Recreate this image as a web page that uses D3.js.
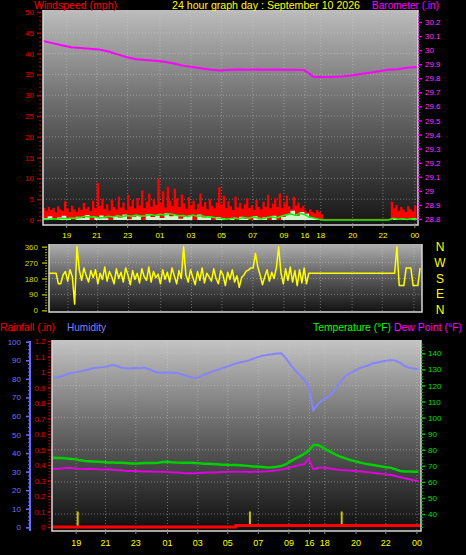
<!DOCTYPE html>
<html><head><meta charset="utf-8">
<script src="https://cdn.jsdelivr.net/npm/d3@7/dist/d3.min.js"></script>
<style>
body{margin:0;background:#000;}
svg{display:block;}
text{font-family:"Liberation Sans",Arial,sans-serif;}
</style>
</head><body>
<svg id="c" width="466" height="555"></svg>
<script>
// ---------- DATA ----------
const titleText = "24 hour graph day : September 10 2026";
const tickHours = [1.52, 3.45, 5.44, 7.52, 9.51, 11.48, 13.48, 15.49, 16.84, 17.85, 19.9, 21.85, 23.9];
const tickLabels = ["19","21","23","01","03","05","07","09","16","18","20","22","00"];

// wind gust (mph), one sample every 0.15 h
const gustStep = 0.15;
const windGust = [
 2.9,2.2,3.1,2.4,2.9,1.8,3.3,2.6,2.2,4.5,
 2.8,2.0,3.4,2.5,1.9,3.0,2.4,4.1,2.7,3.2,
 2.1,4.6,2.9,8.9,3.4,5.1,2.6,3.8,2.3,4.9,
 3.1,2.5,5.6,3.0,4.2,2.4,6.0,3.3,4.8,2.8,
 5.3,3.5,7.1,2.9,4.4,6.3,3.2,5.0,3.6,10.0,
 4.1,6.9,3.0,8.0,4.7,3.4,7.5,5.2,3.1,6.1,
 4.0,2.7,5.5,3.6,4.6,2.5,3.9,6.4,3.2,4.3,
 2.6,5.0,3.4,2.8,4.2,7.9,3.7,5.8,2.9,4.5,
 3.3,2.4,5.6,3.0,4.1,2.7,3.8,5.2,2.9,3.5,
 2.4,4.8,3.1,2.6,4.4,3.2,6.0,2.8,3.9,5.2,
 3.1,6.4,2.9,4.0,5.8,3.3,2.6,5.6,3.5,4.2,
 2.8,3.4,2.3,1.8,2.6,2.0,1.6,2.4,1.9,1.4,
 0.3,0.3,0.3,0.3,0.3,0.3,0.3,0.3,0.3,0.3,
 0.3,0.3,0.3,0.3,0.3,0.3,0.3,0.3,0.3,0.3,
 0.3,0.3,0.3,0.3,0.3,0.3,0.3,0.3,0.3,
 4.4,2.8,3.6,2.2,3.1,2.5,1.9,3.3,2.6,2.1,3.4,2.7
];
// average wind / wind speed (mph), one sample every 0.3 h
const avgStep = 0.3;
const windAvg = [
 0.2,0.1,0.3,0.2,0.4,0.3,0.5,0.4,0.6,0.9,
 0.7,0.8,0.5,0.6,0.9,0.7,1.0,0.8,1.1,0.9,
 1.2,0.9,1.0,1.3,1.1,1.4,1.2,1.5,1.3,1.0,
 1.1,0.8,1.2,0.9,1.0,0.7,0.8,0.5,0.4,0.2,
 0.3,0.5,0.3,0.6,0.4,0.7,0.5,0.3,0.6,0.8,
 0.5,0.9,1.2,1.5,1.1,1.6,1.3,0.7,0.5,0.2,
 0,0,0,0,0,0,0,0,0,0,0,0,0,0,0,
 0.4,0.2,0.3,0.1,0.3,0.2
];
const windSpeed = [
 0.4,0.9,0.0,0.6,1.0,0.3,0.0,0.8,0.5,1.2,
 0.0,0.7,1.1,0.4,0.0,0.9,0.6,1.3,0.2,0.8,
 1.0,0.0,1.4,0.7,1.1,0.5,1.6,0.9,1.2,0.3,
 0.8,1.1,0.0,1.3,0.6,0.9,0.0,0.7,0.4,0.0,
 0.5,0.0,0.8,0.3,0.0,0.9,0.2,0.6,0.0,1.0,
 0.0,0.7,1.4,2.2,1.0,1.9,1.5,0.6,0.3,0.0,
 0,0,0,0,0,0,0,0,0,0,0,0,0,0,0,
 0.3,0.0,0.2,0.0,0.4,0.1
];
// barometer (in), one sample every 0.6 h
const baroStep = 0.6;
const barometer = [
 30.065,30.05,30.035,30.02,30.015,30.01,30.005,29.99,29.97,29.95,
 29.935,29.93,29.925,29.918,29.905,29.89,29.88,29.87,29.86,29.855,
 29.86,29.862,29.86,29.862,29.86,29.862,29.86,29.86,29.858,29.81,
 29.81,29.81,29.812,29.82,29.83,29.84,29.85,29.86,29.865,29.875,29.88
];
// wind direction (deg), every 0.15 h starting at 0.3 h
const dirStart = 0.3, dirStep = 0.15;
const windDir = [
 210,210,210,210,150,150,200,220,165,230,
 190,35,360,230,170,240,195,160,225,185,
 230,150,210,175,245,165,220,190,150,235,
 180,215,160,240,200,145,225,175,210,155,
 235,190,170,245,160,220,185,205,150,230,
 175,215,160,240,195,150,225,180,360,200,
 160,230,185,145,220,170,240,155,210,190,
 165,235,180,150,225,200,140,215,175,230,
 160,195,130,185,200,222,228,240,240,322,
 245,200,145,190,230,165,215,180,240,360,
 210,150,235,170,245,160,225,140,230,155,
 240,150,210,210,210,210,210,210,210,210,
 210,210,210,210,210,210,210,210,210,210,
 210,210,210,210,210,210,210,210,210,210,
 210,210,210,210,210,210,210,210,210,210,
 360,140,140,140,240,240,240,140,140,140,240
];
// bottom panel series, one sample every 0.3 h
const botStep = 0.3;
const humidity = [
 80.6,80.8,81.5,82.3,83.2,83.5,84.0,84.6,85.2,85.8,
 86.1,86.3,86.8,87.4,86.9,85.9,85.7,85.7,85.8,85.7,
 85.9,85.2,84.1,83.3,83.3,83.4,83.3,83.2,82.6,81.8,
 81.0,80.4,80.8,82.2,83.0,84.0,84.8,85.6,86.5,87.4,
 88.3,88.9,89.4,90.0,91.0,91.8,92.5,93.0,93.3,93.6,
 93.8,91.0,87.5,84.6,82.0,79.5,76.0,63.0,66.5,68.6,
 70.0,72.0,75.0,78.5,81.6,83.0,84.3,85.6,86.5,87.2,
 88.3,88.8,89.3,89.8,90.1,89.8,88.6,86.8,86.0,85.6,85.1
];
const temperature = [
 75.0,74.9,74.8,74.5,74.3,74.0,73.4,73.0,72.9,72.7,
 72.5,72.3,72.1,72.0,71.9,71.9,71.7,71.5,71.5,71.6,
 71.7,71.8,71.8,71.9,72.3,72.5,72.2,72.0,71.9,71.9,
 71.9,71.8,71.6,71.3,71.2,71.1,70.9,70.7,70.6,70.5,
 70.5,70.4,70.1,69.8,69.6,69.4,69.2,68.9,69.1,69.4,
 69.8,71.0,72.8,74.4,75.9,77.5,79.5,82.9,82.9,81.4,
 79.8,78.3,76.8,75.6,74.6,73.6,72.9,72.2,71.5,71.0,
 70.5,70.0,69.5,69.1,68.7,67.8,66.8,66.5,66.4,66.3,66.3
];
const dewPoint = [
 68.0,68.1,68.3,68.8,68.6,68.3,68.1,68.0,68.1,68.0,
 67.8,67.7,67.9,67.6,67.4,67.3,66.8,66.8,66.7,66.6,
 66.5,66.4,66.3,66.3,66.3,66.2,66.0,65.8,65.6,65.4,
 65.3,65.3,65.5,65.7,65.9,65.9,66.0,66.1,66.2,66.3,
 66.3,66.3,66.3,66.2,66.3,66.3,66.4,66.6,66.9,67.2,
 67.6,68.3,69.0,69.8,70.5,71.0,74.5,67.8,68.8,68.8,
 68.6,68.2,67.7,67.4,67.2,67.0,66.8,66.6,66.3,66.0,
 65.7,65.3,65.0,64.6,64.3,63.6,62.9,62.2,61.6,61.0,60.5
];
const rainfall = [
 0,0,0,0,0,0,0,0,0,0,
 0,0,0,0,0,0,0,0,0,0,
 0,0,0,0,0,0,0,0,0,0,
 0,0,0,0,0,0,0,0,0,0,
 0.01,0.01,0.01,0.01,0.01,0.01,0.01,0.01,0.01,0.01,
 0.01,0.01,0.01,0.01,0.01,0.01,0.01,0.01,0.01,0.01,
 0.01,0.01,0.01,0.01,0.01,0.01,0.01,0.01,0.01,0.01,
 0.01,0.01,0.01,0.01,0.01,0.01,0.01,0.01,0.01,0.01,0
];
const rainRateHours = [1.62, 12.93, 18.96];
const rainRate = [0.1, 0.1, 0.1];

// ---------- LAYOUT ----------
const svg = d3.select("#c");
const defs = svg.append("defs");
const FONT = '"Liberation Sans",Arial,sans-serif';

function grad(id, stops){
  const g = defs.append("linearGradient").attr("id",id).attr("x1",0).attr("y1",0).attr("x2",0).attr("y2",1);
  stops.forEach(([o,c])=>g.append("stop").attr("offset",o).attr("stop-color",c));
}
grad("gTop", [[0,"#bcbcbc"],[0.45,"#6a6a6a"],[1,"#151515"]]);
grad("gDir", [[0,"#b0b0b0"],[0.5,"#5a5a5a"],[1,"#121212"]]);
grad("gBot", [[0,"#c4c4c4"],[0.45,"#6a6a6a"],[1,"#0e0e0e"]]);

const P1 = {x0:43, x1:418, y0:10, y1:225};
const P2 = {x0:49, x1:422, y0:244, y1:312};
const P3 = {x0:52, x1:421, y0:340, y1:531};

function panel(p, gid, cid){
  svg.append("rect").attr("x",p.x0).attr("y",p.y0).attr("width",p.x1-p.x0).attr("height",p.y1-p.y0).attr("fill",`url(#${gid})`);
  defs.append("clipPath").attr("id",cid).append("rect").attr("x",p.x0).attr("y",p.y0).attr("width",p.x1-p.x0).attr("height",p.y1-p.y0);
}
function border(p){
  svg.append("path").attr("d",`M${p.x0},${p.y0}V${p.y1}H${p.x1}V${p.y0}`).attr("fill","none").attr("stroke","#d8d8d8").attr("stroke-width",1.5);
}
panel(P1,"gTop","cTop");
panel(P2,"gDir","cDir");
panel(P3,"gBot","cBot");

const xTop = d3.scaleLinear().domain([0,24.1]).range([43,418]);
const xDir = d3.scaleLinear().domain([0,24.1]).range([44.5,417]);
const xBot = d3.scaleLinear().domain([0,24.1]).range([53,420]);
const yWS = d3.scaleLinear().domain([0,50]).range([220,12]);
const yBaro = d3.scaleLinear().domain([28.8,30.2]).range([219,22]);
const yDir = d3.scaleLinear().domain([0,360]).range([310.3,246.7]);
const yHum = d3.scaleLinear().domain([0,100]).range([527.3,341.7]);
const yRain = d3.scaleLinear().domain([0,1.2]).range([527,341]);
const yTemp = d3.scaleLinear().domain([40,140]).range([514,353.3]);

const gridStyle = s => s.attr("stroke","#d0d0d0").attr("stroke-opacity",0.45).attr("stroke-width",1).attr("stroke-dasharray","1,2");

// gridlines
function vgrid(p, xs){
  gridStyle(svg.append("g").selectAll("line").data(tickHours).join("line")
    .attr("x1",d=>xs(d)).attr("x2",d=>xs(d)).attr("y1",p.y0).attr("y2",p.y1));
}
function hgrid(p, ys, vals){
  gridStyle(svg.append("g").selectAll("line").data(vals).join("line")
    .attr("x1",p.x0).attr("x2",p.x1).attr("y1",d=>ys(d)).attr("y2",d=>ys(d)));
}
vgrid(P1,xTop); hgrid(P1,yWS,d3.range(5,51,5));
vgrid(P2,xDir); hgrid(P2,yDir,[90,180,270]);
vgrid(P3,xBot); hgrid(P3,yTemp,[40,60,80,100,120,140]);

// ---------- TOP PANEL ----------
const gTop = svg.append("g").attr("clip-path","url(#cTop)");
gTop.append("path").datum(windGust)
  .attr("d", d3.area().curve(d3.curveStepAfter).x((d,i)=>xTop(i*gustStep)).y0(yWS(0)).y1(d=>yWS(d)))
  .attr("fill","#ff0000");
gTop.append("path").datum(windSpeed)
  .attr("d", d3.area().curve(d3.curveStepAfter).x((d,i)=>xTop(i*avgStep)).y0(yWS(0)).y1(d=>yWS(d)))
  .attr("fill","#d4f4d0");
gTop.append("path").datum(windAvg)
  .attr("d", d3.line().x((d,i)=>xTop(i*avgStep)).y(d=>yWS(d)))
  .attr("fill","none").attr("stroke","#00ff00").attr("stroke-width",1.5);
gTop.append("path").datum(barometer)
  .attr("d", d3.line().x((d,i)=>xTop(i*baroStep)).y(d=>yBaro(d)))
  .attr("fill","none").attr("stroke","#ff00ff").attr("stroke-width",2);
border(P1);

// ---------- WIND DIRECTION ----------
const gDir = svg.append("g").attr("clip-path","url(#cDir)");
gDir.append("path").datum(windDir)
  .attr("d", d3.line().x((d,i)=>xDir(dirStart+i*dirStep)).y(d=>yDir(d)))
  .attr("fill","none").attr("stroke","#ffff00").attr("stroke-width",1.5).attr("stroke-linejoin","round");
border(P2);

// ---------- BOTTOM PANEL ----------
const gBot = svg.append("g").attr("clip-path","url(#cBot)");
gBot.append("path").datum(humidity)
  .attr("d", d3.line().x((d,i)=>xBot(i*botStep)).y(d=>yHum(d)))
  .attr("fill","none").attr("stroke","#8484ff").attr("stroke-width",2);
gBot.append("path").datum(temperature)
  .attr("d", d3.line().x((d,i)=>xBot(i*botStep)).y(d=>yTemp(d)))
  .attr("fill","none").attr("stroke","#00d000").attr("stroke-width",2.5);
gBot.append("path").datum(dewPoint)
  .attr("d", d3.line().x((d,i)=>xBot(i*botStep)).y(d=>yTemp(d)))
  .attr("fill","none").attr("stroke","#e000e0").attr("stroke-width",2);
gBot.selectAll("rect.rr").data(rainRate).join("rect").attr("class","rr")
  .attr("x",(d,i)=>xBot(rainRateHours[i])-1).attr("width",2)
  .attr("y",d=>yRain(d)).attr("height",d=>yRain(0)-yRain(d)).attr("fill","#c8c000");
gBot.append("path").datum(rainfall)
  .attr("d", d3.line().curve(d3.curveStepAfter).x((d,i)=>xBot(i*botStep)).y(d=>yRain(d)))
  .attr("fill","none").attr("stroke","#ff0000").attr("stroke-width",3);
border(P3);

// ---------- AXES ----------
function drawAxis(axisFn, scale, pos, isX, major, minor, fmt, color, tcolor, fs, majLen, minLen, pad){
  const t = isX ? `translate(0,${pos})` : `translate(${pos},0)`;
  const gm = svg.append("g").attr("transform",t)
    .call(axisFn(scale).tickValues(minor).tickSize(minLen).tickFormat(""));
  gm.select(".domain").remove();
  gm.selectAll("line").attr("stroke",color);
  const g = svg.append("g").attr("transform",t)
    .call(axisFn(scale).tickValues(major).tickSize(majLen).tickPadding(pad).tickFormat(fmt));
  g.select(".domain").remove();
  g.selectAll("line").attr("stroke",color).attr("stroke-width",1.5);
  g.selectAll("text").attr("fill",tcolor).attr("font-size",fs).attr("font-family",FONT);
  return g;
}
// wind speed left
drawAxis(d3.axisLeft, yWS, 41, false, d3.range(0,51,5), d3.range(0,51,1), d3.format("d"), "#b00000", "#e00000", 8, 4, 2, 3);
// barometer right
drawAxis(d3.axisRight, yBaro, 418, false, d3.range(28.8,30.21,0.1).map(v=>+v.toFixed(1)), d3.range(28.8,30.27,0.02).map(v=>+v.toFixed(2)), d=>d3.format("")(+d.toFixed(1)), "#e000e0", "#ff33ff", 8, 4, 2, 3);
// top x labels
svg.append("g").selectAll("text").data(tickHours).join("text")
  .attr("x",d=>xTop(d)).attr("y",238).attr("text-anchor","middle")
  .attr("fill","#ffff00").attr("font-size",8).attr("font-family",FONT)
  .text((d,i)=>tickLabels[i]);
svg.append("g").selectAll("line").data(tickHours).join("line")
  .attr("x1",d=>xTop(d)).attr("x2",d=>xTop(d)).attr("y1",225).attr("y2",228).attr("stroke","#888");
// wind dir left
drawAxis(d3.axisLeft, yDir, 47, false, [0,90,180,270,360], d3.range(0,361,15), d3.format("d"), "#a0a000", "#dada00", 8, 5, 2, 4);
// compass letters
const compass = ["N","W","S","E","N"];
const compassDeg = [360,270,180,90,0];
svg.append("g").selectAll("text").data(compass).join("text")
  .attr("x",440).attr("y",(d,i)=>yDir(compassDeg[i])+4).attr("text-anchor","middle")
  .attr("fill","#ffff00").attr("font-size",12).attr("font-family",FONT).text(d=>d);
// humidity axis
svg.append("line").attr("x1",30).attr("x2",30).attr("y1",341).attr("y2",531).attr("stroke","#6b6bff").attr("stroke-width",2);
drawAxis(d3.axisLeft, yHum, 30, false, d3.range(0,101,10), d3.range(0,101,2), d3.format("d"), "#6b6bff", "#7070ff", 8, 4, 2, 5);
// rainfall axis
drawAxis(d3.axisLeft, yRain, 50.5, false, d3.range(0,1.21,0.1).map(v=>+v.toFixed(1)), d3.range(0,1.21,0.02).map(v=>+v.toFixed(2)), d=>d3.format("")(+d.toFixed(1)), "#d00000", "#e00000", 8, 3, 2, 2);
// temperature axis
drawAxis(d3.axisRight, yTemp, 421, false, d3.range(40,141,10), d3.range(32,148,2), d3.format("d"), "#00c000", "#00e000", 8, 4, 2, 3);
// bottom x labels
svg.append("g").selectAll("text").data(tickHours).join("text")
  .attr("x",d=>xBot(d)).attr("y",546).attr("text-anchor","middle")
  .attr("fill","#ffff00").attr("font-size",9).attr("font-family",FONT)
  .text((d,i)=>tickLabels[i]);
svg.append("g").selectAll("line").data(tickHours).join("line")
  .attr("x1",d=>xBot(d)).attr("x2",d=>xBot(d)).attr("y1",531).attr("y2",534).attr("stroke","#888");

// ---------- TITLES ----------
function label(txt, x, y, color, w, fs){
  svg.append("text").attr("x",x).attr("y",y).attr("fill",color).attr("font-size",fs||11)
    .attr("font-family",FONT).attr("textLength",w).attr("lengthAdjust","spacingAndGlyphs").text(txt);
}
label("Windspeed (mph)", 34, 9, "#ff0000", 83);
label(titleText, 172, 9, "#ffff00", 188);
label("Barometer (.in)", 372, 9, "#ff00ff", 67);
label("Rainfall (.in)", 0, 331, "#ff0000", 55);
label("Humidity", 67, 331, "#8080ff", 39);
label("Temperature (°F)", 313, 331, "#00ff00", 78);
label("Dew Point (°F)", 394, 331, "#ff00ff", 68);
</script>
</body></html>
